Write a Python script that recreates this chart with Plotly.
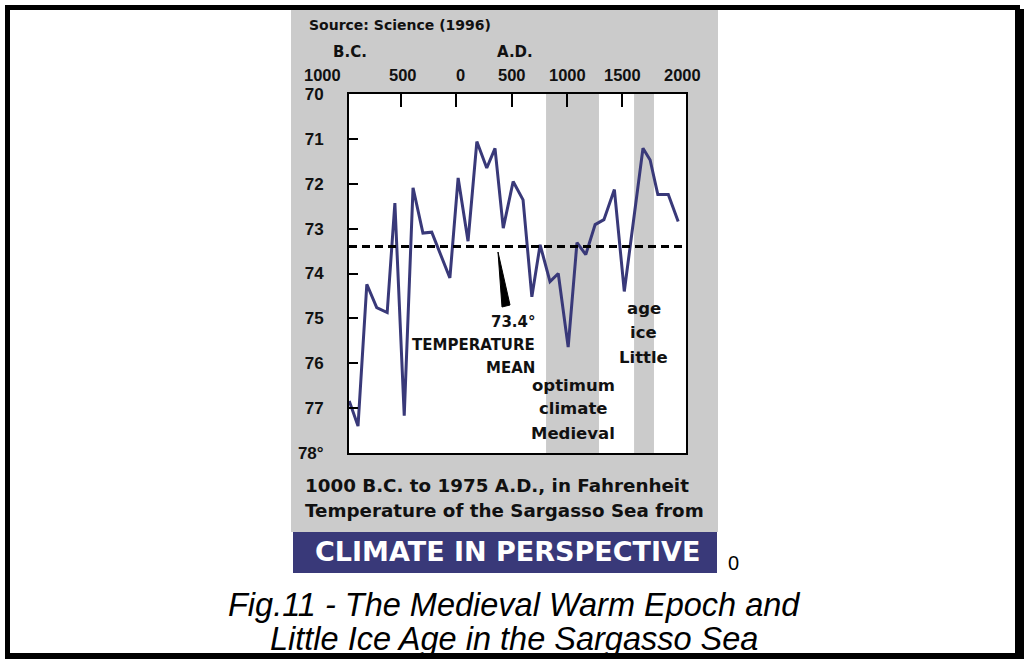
import plotly.graph_objects as go

# ---- data ----
years = [-975, -895, -815, -725, -630, -560, -475, -395, -305, -225, -60, 15, 105, 185,
         275, 350, 425, 515, 605, 685, 760, 850, 925, 1015, 1095, 1175, 1260, 1340,
         1435, 1525, 1695, 1760, 1830, 1925, 2015]
temps = [76.84, 77.4, 74.24, 74.76, 74.87, 72.43, 77.17, 72.09, 73.1, 73.08, 74.1, 71.87,
         73.28, 71.06, 71.65, 71.21, 72.99, 71.95, 72.36, 74.52, 73.36, 74.18, 74.0, 75.64,
         73.31, 73.58, 72.91, 72.8, 72.13, 74.4, 71.21, 71.47, 72.24, 72.24, 72.84]
mean_temp = 73.4
medieval_band = [814, 1295]
little_ice_band = [1614, 1795]
x_tick_vals = [-500, 0, 500, 1000, 1500]
x_tick_labels = ["1000", "500", "0", "500", "1000", "1500", "2000"]
y_tick_vals = [70, 71, 72, 73, 74, 75, 76, 77, 78]
y_tick_labels = ["70", "71", "72", "73", "74", "75", "76", "77", "78°"]

W, H = 1027, 659
L, R, T, B = 349, 686, 94, 453  # plot area in pixels


def xp(px):
    return (px - L) / (R - L)


def yp(py):
    return (B - py) / (B - T)


NAVY = "#393979"
GRAY = "#cbcbcb"
FONT = "Liberation Sans"
WIDE = "DejaVu Sans"

fig = go.Figure()
fig.add_trace(go.Scatter(x=years, y=temps, mode="lines",
                         line=dict(color=NAVY, width=3), hoverinfo="skip",
                         showlegend=False))

shapes = []


def rect(x0, y0, x1, y1, color, layer="above"):
    shapes.append(dict(type="rect", xref="paper", yref="paper",
                       x0=xp(x0), x1=xp(x1), y0=yp(y1), y1=yp(y0),
                       fillcolor=color, line=dict(width=0), layer=layer))


# gray panel, white plot background
rect(291, 9, 718, 532, GRAY, "below")
shapes.append(dict(type="rect", xref="paper", yref="paper", x0=0, x1=1, y0=0, y1=1,
                   fillcolor="white", line=dict(width=0), layer="below"))
for band in (medieval_band, little_ice_band):
    shapes.append(dict(type="rect", xref="x", yref="paper", x0=band[0], x1=band[1],
                       y0=0, y1=1, fillcolor=GRAY, line=dict(width=0), layer="below"))
# mean line
shapes.append(dict(type="line", xref="paper", yref="y", x0=0, x1=1,
                   y0=mean_temp, y1=mean_temp,
                   line=dict(color="black", width=3, dash="8px,5px")))
# arrow wedge to the mean line
shapes.append(dict(type="path", xref="paper", yref="paper",
                   path=f"M {xp(498)} {yp(252)} L {xp(502)} {yp(307)} L {xp(510)} {yp(305)} Z",
                   fillcolor="black", line=dict(color="black", width=1)))
# banner
rect(293, 532, 717, 573, NAVY)
# outer black frame
rect(5, 5, 1020, 10, "black")
rect(5, 5, 10, 659, "black")
rect(1015, 9, 1024, 659, "black")
rect(5, 653, 1024, 659, "black")

annotations = []


def text(s, px, py, size, color="#111", bold=True, italic=False, xanchor="center",
         family=FONT):
    if bold:
        s = f"<b>{s}</b>"
    if italic:
        s = f"<i>{s}</i>"
    annotations.append(dict(text=s, x=xp(px), y=yp(py), xref="paper", yref="paper",
                            showarrow=False, xanchor=xanchor, yanchor="middle",
                            font=dict(family=family, size=size, color=color)))


text("Source: Science (1996)", 307, 25, 14, xanchor="left", family=WIDE)
text("B.C.", 350, 52, 15, family=WIDE)
text("A.D.", 515, 52, 15, family=WIDE)
for lab, px in zip(x_tick_labels, [322, 403, 460, 512, 567, 622, 682]):
    text(lab, px, 75, 16.5)

text("TEMPERATURE", 537, 345, 15, xanchor="right", family=WIDE)
text("MEAN", 537, 368, 15, xanchor="right", family=WIDE)
text("73.4°", 538, 322, 15, xanchor="right", family=WIDE)
text("optimum", 573, 385, 16.5, family=WIDE)
text("climate", 573, 408, 16.5, family=WIDE)
text("Medieval", 573, 433, 16.5, family=WIDE)
text("age", 644, 308, 16.5, family=WIDE)
text("ice", 643, 332, 16.5, family=WIDE)
text("Little", 643, 357, 16.5, family=WIDE)

text("1000 B.C. to 1975 A.D., in Fahrenheit", 303, 485, 18.3, xanchor="left", family=WIDE)
text("Temperature of the Sargasso Sea from", 303, 510, 18.3, xanchor="left", family=WIDE)
text("CLIMATE IN PERSPECTIVE", 507, 551, 27, color="white", family=WIDE)
text("0", 733, 563, 20, color="black", bold=False)
text("Fig.11 - The Medieval Warm Epoch and", 514, 605, 32.5, color="black", bold=False,
     italic=True)
text("Little Ice Age in the Sargasso Sea", 514, 639, 32.5, color="black", bold=False,
     italic=True)

fig.update_layout(
    width=W, height=H,
    margin=dict(l=L, r=W - R, t=T, b=H - B, pad=0),
    paper_bgcolor="white", plot_bgcolor="rgba(0,0,0,0)",
    shapes=shapes, annotations=annotations,
    xaxis=dict(range=[-977, 2086], side="top", tickvals=x_tick_vals,
               showticklabels=False, ticks="inside", ticklen=13, tickwidth=2,
               tickcolor="black", showline=True, linecolor="black", linewidth=2,
               mirror=True, showgrid=False, zeroline=False),
    yaxis=dict(range=[78, 70], tickvals=y_tick_vals,
               ticktext=[f"<b>{t}</b>" for t in y_tick_labels],
               ticks="inside", ticklen=9, tickwidth=2, tickcolor="black",
               ticklabelstandoff=20,
               tickfont=dict(family=FONT, size=17, color="#111"),
               showline=True, linecolor="black", linewidth=2, mirror=True,
               showgrid=False, zeroline=False),
    showlegend=False,
)

fig.write_html("out.html", config={"displayModeBar": False},
               post_script="document.body.style.margin='0';"
                           "document.body.style.overflow='hidden';")
